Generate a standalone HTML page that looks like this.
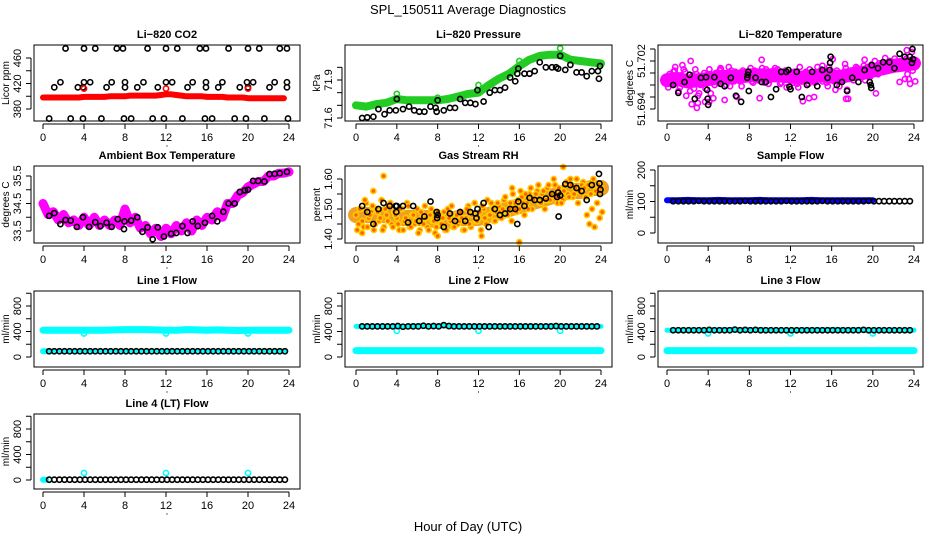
<!DOCTYPE html>
<html><head><meta charset="utf-8"><style>
html,body{margin:0;padding:0;background:#fff}
svg{display:block;font-family:"Liberation Sans",Arial,sans-serif}
</style></head><body>
<svg id="chart" width="936" height="540" viewBox="0 0 936 540">
<text x="468" y="14" text-anchor="middle" font-size="13">SPL_150511  Average Diagnostics</text>
<text x="468" y="531" text-anchor="middle" font-size="13">Hour of Day (UTC)</text>
</svg>
<script>
// ---------- data ----------
const hourTicks = [0,4,8,12,16,20,24];
const co2Red = [398,398,398,398,398,398,398,398,399,399,399,399,399,400,400,400,400,401,401,401,401,401,401,402,403,403,402,401,400,400,400,400,399,399,399,399,398,398,398,398,397,397,397,397,397,397,397,397];
const co2TopHours = [2.2,4,5.1,7.2,7.8,10.2,12,13.1,15.3,15.9,18.1,20,21.1,23.1,23.8];
const co2MidHours = [1.1,3.4,3.9,6.2,8,9.2,11.2,14.1,15.9,17.1,19.2,20,22.1,23.8];
const co2Mid2Hours = [1.7,4,4.6,6.7,8,9.8,12,12.6,14.6,15.9,17.5,19.9,20.5,22.6,23.8];
const co2LowHours = [0.6,2.7,3.9,5.7,7.9,8.6,10.7,11.8,13.6,15.8,16.5,18.7,19.8,21.6,23.9];
const co2Levels = [475,414,422,365];

const presGreen = [71.70,71.69,71.71,71.72,71.75,71.74,71.74,71.74,71.74,71.75,71.77,71.79,71.80,71.86,71.91,71.95,72.01,72.06,72.09,72.10,72.10,72.06,72.05,72.04,72.03];
const presGreenOutHours = [0,4,8,12,16,20];
const presGreenOut = [71.70,71.79,71.76,71.86,72.05,72.15];
const presBlackHours = [0.6,1.1,1.7,2.2,2.8,3.3,3.9,4,4.6,5.2,5.7,6.2,6.7,7.3,7.8,7.9,8,8.6,9.2,9.7,10.2,10.7,11.2,11.7,11.9,12.5,13.1,13.6,14.1,14.6,15.1,15.6,15.8,15.9,16.5,17,17.5,18,18.6,19.2,19.6,19.8,20,20.5,21,21.6,22.1,22.6,23.1,23.7,23.8,23.9];
const presBlack = [71.60,71.605,71.61,71.67,71.63,71.66,71.66,71.75,71.67,71.69,71.66,71.65,71.65,71.69,71.68,71.65,71.74,71.66,71.68,71.68,71.75,71.72,71.72,71.71,71.82,71.73,71.80,71.82,71.82,71.84,71.92,71.89,71.95,71.99,71.95,71.95,71.97,72.04,72.00,72.00,72.00,71.99,72.09,71.98,72.02,71.96,71.96,71.93,71.97,71.97,71.91,72.01];

const tempMag = [51.6990,51.6998,51.6982,51.7004,51.6986,51.6976,51.6994,51.7002,
51.6984,51.6970,51.6996,51.7006,51.6962,51.6980,51.6992,51.6974,
51.6998,51.6966,51.6988,51.7000,51.6984,51.7006,51.6990,51.6980,
51.6996,51.7004,51.6986,51.6992,51.7000,51.6978,51.6994,51.7002,
51.6998,51.6986,51.7004,51.6990,51.6996,51.7008,51.6984,51.6998,
51.6988,51.7002,51.6994,51.7006,51.6982,51.6996,51.7004,51.6990,
51.6992,51.6984,51.7000,51.6976,51.6994,51.6988,51.7002,51.6982,
51.6996,51.6986,51.7000,51.6990,51.7006,51.6994,51.6984,51.7010,
51.6996,51.6986,51.7004,51.6978,51.6994,51.7002,51.6972,51.6990,
51.7000,51.6992,51.7008,51.6996,51.7004,51.6988,51.7010,51.6994,
51.7002,51.7012,51.6998,51.7008,51.7014,51.7004,51.7010,51.7016,
51.7008,51.7016,51.7012,51.7020,51.7014,51.7024,51.7016,51.7012,51.7014];
const tempBand = [51.6988,51.6990,51.6986,51.6988,51.6990,51.6992,51.6994,51.6994,51.6996,51.6996,51.6996,51.6996,51.6994,51.6992,51.6994,51.6996,51.6994,51.6994,51.6998,51.7000,51.7004,51.7008,51.7012,51.7014,51.7016];
const tempExtraHours = [2.4,2.9,3.0,3.7,4.1,4.5,5.6,6.8,9.0,13.2,13.8,14.3,17.4,17.6,20.3,22.6,23.5,0.8,1.5,2.3,5.2,6.0,9.2,10.5,12.9,15.1,16.1,17.3,19.2,20.2,21.2,23.3,23.8];
const tempExtra = [51.6948,51.6942,51.6950,51.6952,51.6952,51.6958,51.6955,51.6960,51.6958,51.6953,51.6958,51.6960,51.6957,51.6957,51.6966,51.6985,51.6990,51.7010,51.7013,51.7020,51.7008,51.7010,51.7022,51.7008,51.7010,51.7012,51.7023,51.7015,51.7022,51.7020,51.7025,51.7038,51.7035];
const tempBlackHours = [0.6,1.1,1.7,2.2,2.7,3.3,3.8,3.9,3.95,4,4.6,5.2,5.6,6.2,6.7,7.2,7.8,7.85,7.9,7.95,8.6,9.2,9.6,10.1,10.6,11.1,11.6,11.8,11.9,12,12.6,13.1,13.6,14.1,14.6,15.1,15.6,15.8,15.85,15.9,16.5,17,17.5,18,18.6,19.2,19.7,19.8,19.85,19.9,20.5,21,21.6,22.1,22.6,23.1,23.6,23.8,23.85,23.9];
const tempBlack = [51.6980,51.6967,51.6985,51.6997,51.6957,51.6992,51.6993,51.6972,51.6957,51.6947,51.6993,51.6982,51.6978,51.6992,51.6962,51.6952,51.6992,51.6997,51.7002,51.6970,51.6992,51.6985,51.6985,51.6960,51.6973,51.7002,51.7002,51.7005,51.6977,51.6973,51.7002,51.6960,51.6980,51.7002,51.6978,51.7005,51.6992,51.7005,51.7017,51.7027,51.6980,51.6985,51.6970,51.6992,51.6985,51.7005,51.6985,51.6980,51.6975,51.7013,51.7008,51.7018,51.7018,51.7008,51.7032,51.7027,51.7027,51.7017,51.7040,51.7023];

const ambBand = [34.5,34.1,34.2,33.9,34.1,33.8,33.9,33.7,34.0,33.7,34.0,33.7,33.9,33.7,33.9,33.7,34.3,33.8,34.0,33.6,33.7,33.4,33.6,33.3,33.6,33.4,33.7,33.5,33.8,33.5,33.9,33.7,34.0,33.9,34.2,34.0,34.5,34.5,34.8,34.9,35.1,35.2,35.3,35.3,35.5,35.5,35.6,35.6,35.65];
const ambBlackHours = [0.6,1.1,1.7,2.2,2.7,3.3,3.9,4.5,5.1,5.6,6.2,6.7,7.3,7.9,7.95,8.6,9.2,9.7,10.2,10.7,11.2,11.8,12.5,13,13.6,14.1,14.6,15.1,15.8,16.5,17,17.6,18.1,18.7,19.2,19.7,20,20.5,21,21.6,22.1,22.6,23.1,23.8];
const ambBlack = [34.05,34.15,33.75,33.9,33.88,33.65,34.0,33.65,33.82,33.68,33.8,33.65,33.93,33.57,33.85,33.88,34.0,33.47,33.63,33.2,33.63,33.3,33.4,33.43,33.68,33.43,33.85,33.68,33.8,34.05,33.85,34.2,34.5,34.5,34.92,34.98,35.0,35.32,35.32,35.3,35.57,35.58,35.6,35.65];

const rhCloud = [1.48,1.45,1.50,1.44,1.52,1.47,1.49,1.43,
1.50,1.46,1.53,1.44,1.48,1.51,1.45,1.49,
1.47,1.43,1.50,1.46,1.52,1.44,1.48,1.45,
1.50,1.43,1.47,1.51,1.44,1.48,1.46,1.42,
1.49,1.45,1.47,1.43,1.50,1.46,1.44,1.48,
1.45,1.49,1.43,1.47,1.51,1.44,1.48,1.46,
1.47,1.43,1.50,1.45,1.48,1.52,1.46,1.49,
1.51,1.47,1.53,1.48,1.50,1.46,1.52,1.49,
1.50,1.54,1.48,1.52,1.55,1.50,1.53,1.56,
1.52,1.55,1.50,1.57,1.53,1.55,1.58,1.52,
1.56,1.53,1.58,1.55,1.60,1.54,1.57,1.52,
1.56,1.59,1.54,1.58,1.55,1.60,1.56,1.58,1.57];
const rhBand = [1.48,1.48,1.48,1.48,1.47,1.47,1.47,1.47,1.46,1.46,1.47,1.47,1.47,1.48,1.49,1.50,1.51,1.52,1.53,1.54,1.55,1.56,1.56,1.57,1.57];
const rhOutHours = [2.7,16,20.3,0.6,1.7,8,12.3,15.3];
const rhOut = [1.61,1.39,1.64,1.42,1.56,1.41,1.41,1.57];
const rhBlackHours = [0.6,1.1,1.7,2.2,2.7,3.3,3.9,3.95,4,4.6,5.1,5.6,6.2,6.7,7.3,7.9,7.95,8,8.6,9.2,9.7,10.2,10.7,11.2,11.7,11.8,11.9,12.5,13,13.6,14.1,14.6,15.1,15.6,15.8,15.9,16.5,17,17.5,18,18.6,19.2,19.7,19.8,19.85,20,20.5,21,21.6,22.1,22.6,23.1,23.8,23.85,23.9,23.95];
const rhBlack = [1.51,1.49,1.45,1.50,1.52,1.51,1.51,1.49,1.51,1.51,1.455,1.51,1.46,1.475,1.525,1.49,1.47,1.48,1.44,1.485,1.46,1.49,1.46,1.49,1.485,1.47,1.50,1.52,1.44,1.50,1.48,1.485,1.50,1.50,1.45,1.525,1.51,1.537,1.53,1.53,1.535,1.55,1.54,1.555,1.475,1.545,1.583,1.58,1.57,1.56,1.53,1.58,1.617,1.585,1.55,1.565];

const sampleBlue = [104,104,105,104,104,105,104,104,104,105,104,104,104,104,105,104,104,104,104,104,104];
const sampleBlack = [101,101,101,101,101,102,101,101,101,101,101,101,101,101,102,101,101,101,101,101,101,101,102,101,101,101,101,101,101,102,101,101,101,101,101,101,101,101,102,101,101,101,101,101,101,101,101];

const line1Cyan = [420,420,420,420,420,420,420,425,430,430,430,425,420,420,430,425,420,425,420,415,420,420,420,420,420];
const line1Black = [90,90,90,90,90,90,90,90,90,90,90,90,90,90,90,90,90,90,90,90,90,90,90,90,90,90,90,90,90,90,90,90,90,90,90,90,90,90,90,90,90,90,90,90,90,90,90];
const line2Cyan = [480,480,480,480,475,480,490,480,485,490,480,480,480,480,480,480,480,480,480,485,480,480,480,480,480];
const line2Black = [480,480,480,480,480,480,480,485,475,480,480,480,490,480,485,480,500,485,480,480,480,480,480,480,480,480,480,480,480,480,480,480,480,480,480,480,480,480,485,480,480,480,480,480,480,480,480];
const line2Low = [100,100,100,100,100,100,100,100,100,100,100,100,100,100,100,100,100,100,100,100,100,100,100,100,100];
const line3Cyan = [420,420,420,425,420,425,430,425,425,430,420,420,420,425,425,425,430,425,425,430,420,420,420,420,420];
const line3Black = [420,420,420,420,420,420,420,425,420,420,420,420,430,420,425,420,425,420,420,420,420,420,420,420,420,420,420,420,420,420,420,420,420,420,420,420,420,425,420,420,420,420,420,420,420,420,420];
const line3Low = [100,100,100,100,100,100,100,100,100,100,100,100,100,100,100,100,100,100,100,100,100,100,100,100,100];
const line4Black = [5,5,5,5,5,5,5,5,5,5,5,5,5,5,5,5,5,5,5,5,5,5,5,5,5,5,5,5,5,5,5,5,5,5,5,5,5,5,5,5,5,5,5,5,5,5,5];
const flowOutHours = [4,12,20];
const line1Out = [370,370,370];
const line2Out = [410,410,410];
const line3Out = [370,370,370];
const line4Out = [110,110,110];

// ---------- layout ----------
const NS = 'http://www.w3.org/2000/svg';
const svg = document.getElementById('chart');
const cols = [{l:34,r:300,x0:43,x24:289},{l:345,r:612,x0:356,x24:601},{l:658,r:923,x0:667,x24:914}];
const rows = [{t:45,b:121},{t:166,b:243},{t:291,b:367},{t:414,b:489}];

function mk(tag, attrs, parent){
  const e = document.createElementNS(NS, tag);
  for (const k in attrs) e.setAttribute(k, attrs[k]);
  (parent||svg).appendChild(e);
  return e;
}
function panel(name, title, ylab, c, r, v1, p1, v2, p2, ticks, labels, fmt){
  const C = cols[c], R = rows[r];
  const g = mk('g', {});
  
  
  const xs = h => C.x0 + h*(C.x24-C.x0)/24;
  const ys = v => p1 + (v-v1)*(p2-p1)/(v2-v1);
  const plot = mk('g', {}, g);
  
  
  const box = mk('rect', {x:C.l, y:R.t, width:C.r-C.l, height:R.b-R.t, fill:'none', stroke:'#000', 'stroke-width':1}, g);
  
  
  const tt = mk('text', {x:(C.l+C.r)/2, y:R.t-7, 'text-anchor':'middle', 'font-size':11, 'font-weight':'bold'}, g);
  tt.textContent = title;
  
  
  const xa = mk('g', {}, g);
  
  
  mk('line', {x1:xs(0), x2:xs(24), y1:R.b+3, y2:R.b+3, stroke:'#000'}, xa);
  hourTicks.forEach(h=>{
    mk('line', {x1:xs(h), x2:xs(h), y1:R.b+3, y2:R.b+8, stroke:'#000'}, xa);
    const t = mk('text', {x:xs(h), y:R.b+20, 'text-anchor':'middle', 'font-size':11}, xa);
    t.textContent = h;
    
    
  });
  mk('circle', {cx:(C.l+C.r)/2, cy:R.b+25, r:0.6, fill:'#000'}, xa);
  const ya = mk('g', {}, g);
  
  
  const tp = ticks.map(ys);
  mk('line', {x1:C.l-3, x2:C.l-3, y1:Math.min(...tp), y2:Math.max(...tp), stroke:'#000'}, ya);
  ticks.forEach(v=>{
    mk('line', {x1:C.l-3, x2:C.l-8, y1:ys(v), y2:ys(v), stroke:'#000'}, ya);
  });
  labels.forEach(v=>{
    const yy = ys(v), xx = C.l-13;
    const t = mk('text', {x:xx, y:yy, 'text-anchor':'middle', 'font-size':11, transform:`rotate(-90 ${xx} ${yy})`}, ya);
    t.textContent = fmt ? fmt(v) : v;
    
    
  });
  const lx = C.l-25, ly = (R.t+R.b)/2;
  const yl = mk('text', {x:lx, y:ly, 'text-anchor':'middle', 'font-size':10, transform:`rotate(-90 ${lx} ${ly})`}, g);
  yl.textContent = ylab;
  
  
  return {xs, ys, plot};
}
function band(P, vals, step, start, color, w, name){
  const pts = vals.map((v,i)=>P.xs(start+i*step).toFixed(1)+','+P.ys(v).toFixed(1)).join(' ');
  const l = mk('polyline', {points:pts, fill:'none', stroke:color, 'stroke-width':w, 'stroke-linejoin':'round', 'stroke-linecap':'round'}, P.plot);
  
  
}
function pts(P, hours, vals, color, name, fill, rr, sw){
  vals.forEach((v,i)=>{
    const c = mk('circle', {cx:P.xs(hours[i]), cy:P.ys(v), r:rr||2.6, fill:fill||'none', stroke:color, 'stroke-width':sw||1.6}, P.plot);
    
    
  });
}
function stepHours(n, step, start){ const a=[]; for(let i=0;i<n;i++) a.push(start+i*step); return a; }

let P = panel('co2','Li\u2212820 CO2','Licor ppm',0,0,380,109,460,58,[380,400,420,440,460],[380,420,460]);
band(P, co2Red, 0.5, 0, '#ff0000', 6, 'co2-band');
pts(P, co2TopHours, co2TopHours.map(()=>co2Levels[0]), '#000', 'co2-point');
pts(P, co2MidHours, co2MidHours.map(()=>co2Levels[1]), '#000', 'co2-point');
pts(P, co2Mid2Hours, co2Mid2Hours.map(()=>co2Levels[2]), '#000', 'co2-point');
pts(P, co2LowHours, co2LowHours.map(()=>co2Levels[3]), '#000', 'co2-point');
pts(P, [4,12,20], [412,412,412], '#ff0000', 'co2-outlier');

P = panel('pressure','Li\u2212820 Pressure','kPa',1,0,71.6,118,71.9,80,[71.6,71.7,71.8,71.9,72.0],[71.6,71.9],v=>v.toFixed(1));
band(P, presGreen, 1, 0, '#22cc22', 8, 'pressure-band');
pts(P, presGreenOutHours, presGreenOut, '#22cc22', 'pressure-outlier');
pts(P, presBlackHours, presBlack, '#000', 'pressure-point');

P = panel('li820-temp','Li\u2212820 Temperature','degrees C',2,0,51.694,109,51.702,61,[51.694,51.696,51.698,51.700,51.702,51.704],[51.694,51.702],v=>v.toFixed(3));
band(P, tempBand, 1, 0, '#ff00ff', 14, 'temp-band');
pts(P, stepHours(tempMag.length,0.25,0), tempMag, '#ff00ff', 'temp-point');
pts(P, stepHours(tempMag.length,0.25,0.12), tempMag.map((v,i)=>tempMag[(i+5)%tempMag.length]), '#ff00ff', 'temp-point');
pts(P, tempExtraHours, tempExtra, '#ff00ff', 'temp-point');
pts(P, tempBlackHours, tempBlack, '#000', 'temp-hourly-point');

P = panel('ambient','Ambient Box Temperature','degrees C',0,1,33.5,231,35.5,176,[33.5,34,34.5,35,35.5],[33.5,34.5,35.5]);
band(P, ambBand, 0.5, 0, '#ff00ff', 9, 'ambient-band');
pts(P, ambBlackHours, ambBlack, '#000', 'ambient-point');

P = panel('rh','Gas Stream RH','percent',1,1,1.40,239,1.60,179,[1.40,1.45,1.50,1.55,1.60],[1.40,1.50,1.60],v=>v.toFixed(2));
band(P, rhBand, 1, 0, '#f0a020', 16, 'rh-band');
pts(P, stepHours(rhCloud.length,0.25,0), rhCloud, '#ffcc00', 'rh-point', '#ff6000');
pts(P, stepHours(rhCloud.length,0.25,0.12), rhCloud.map((v,i)=>rhCloud[(i+7)%rhCloud.length]), '#ffcc00', 'rh-point', '#ff6000');
pts(P, rhOutHours, rhOut, '#ffcc00', 'rh-outlier', '#ff6000');
pts(P, rhBlackHours, rhBlack, '#000', 'rh-hourly-point');

P = panel('sample-flow','Sample Flow','ml/min',2,1,0,233,200,170,[0,50,100,150,200],[0,100,200]);
band(P, sampleBlue, 1, 0, '#0000ff', 6, 'sample-flow-band');
pts(P, stepHours(sampleBlack.length,0.5,0.6), sampleBlack, '#000', 'sample-flow-point');

const fT = [0,200,400,600,800,1000], fL = [0,400,800];
P = panel('line1-flow','Line 1 Flow','ml/min',0,2,0,357,800,306,fT,fL);
band(P, line1Cyan, 1, 0, '#00ffff', 7, 'line1-band');
band(P, [90,90], 0.5, 0, '#00ffff', 6, 'line1-low-band');
pts(P, flowOutHours, line1Out, '#00ffff', 'line1-outlier');
pts(P, stepHours(line1Black.length,0.5,0.6), line1Black, '#000', 'line1-point', '#00ffff');

P = panel('line2-flow','Line 2 Flow','ml/min',1,2,0,357,800,306,fT,fL);
band(P, line2Low, 1, 0, '#00ffff', 7, 'line2-low-band');
band(P, line2Cyan, 1, 0, '#00ffff', 5, 'line2-band');
pts(P, flowOutHours, line2Out, '#00ffff', 'line2-outlier');
pts(P, stepHours(line2Black.length,0.5,0.6), line2Black, '#000', 'line2-point');

P = panel('line3-flow','Line 3 Flow','ml/min',2,2,0,357,800,306,fT,fL);
band(P, line3Low, 1, 0, '#00ffff', 7, 'line3-low-band');
band(P, line3Cyan, 1, 0, '#00ffff', 5, 'line3-band');
pts(P, flowOutHours, line3Out, '#00ffff', 'line3-outlier');
pts(P, stepHours(line3Black.length,0.5,0.6), line3Black, '#000', 'line3-point');

P = panel('line4-flow','Line 4 (LT) Flow','ml/min',0,3,0,480,800,429,fT,fL);
band(P, [5,5], 0.3, 0, '#00ffff', 6, 'line4-band');
pts(P, flowOutHours, line4Out, '#00ffff', 'line4-outlier');
pts(P, stepHours(line4Black.length,0.5,0.6), line4Black, '#000', 'line4-point');
</script>
</body></html>
